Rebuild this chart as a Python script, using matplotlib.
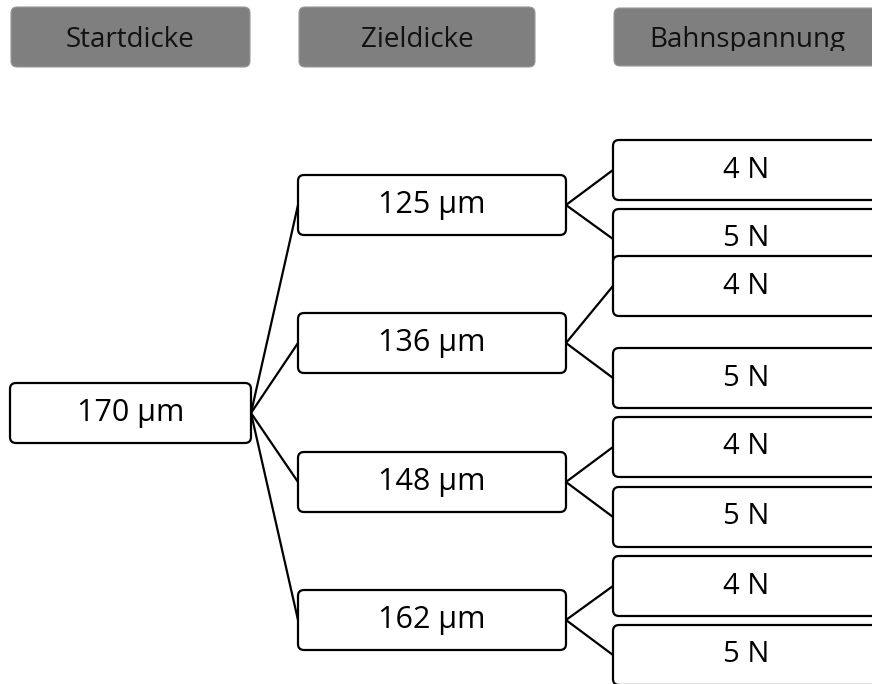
import matplotlib.pyplot as plt
from matplotlib.patches import FancyBboxPatch, Rectangle

plt.rcParams['font.family'] = ['Open Sans', 'DejaVu Sans']

# Inhalt des Baumdiagramms
headers = ["Startdicke", "Zieldicke", "Bahnspannung"]
start_label = "170 µm"
target_labels = ["125 µm", "136 µm", "148 µm", "162 µm"]
tension_labels = ["4 N", "5 N"]

# Layout (Pixelkoordinaten, y nach unten)
header_boxes = [(11, 7, 239, 60), (299, 7, 236, 60), (614, 8, 270, 58)]
header_text_x = [130, 417, 747]
root_box = (10, 383, 241, 60)
mid_x, mid_w, mid_h = 298, 268, 60
mid_cy = [205, 343, 482, 620]
right_x, right_w, right_h = 613, 266, 60
right_cy = [[170, 239], [286, 378], [447, 517], [586, 655]]

fig = plt.figure(figsize=(8.72, 6.84), dpi=100)
ax = fig.add_axes([0, 0, 1, 1])
ax.set_xlim(0, 872)
ax.set_ylim(684, 0)
ax.axis('off')


def box(x, y, w, h, label, z, fc='white', ec='black', fs=22):
    p = FancyBboxPatch((x, y), w, h, boxstyle="round,pad=0,rounding_size=6",
                       fc=fc, ec=ec, lw=1.6, zorder=z)
    ax.add_patch(p)
    ax.text(x + w / 2, y + h / 2, label, ha='center', va='center', fontsize=fs,
            color='black', zorder=z + 0.5)


# Kopfzeilen
for i, (hx, hy, hw, hh) in enumerate(header_boxes):
    p = FancyBboxPatch((hx, hy), hw, hh, boxstyle="round,pad=0,rounding_size=6",
                       fc='#7f7f7f', ec='#9a9a9a', lw=0.8, zorder=1)
    ax.add_patch(p)
    t = ax.text(header_text_x[i], hy + hh / 2 + 3, headers[i], ha='center',
                va='center', fontsize=20, color='#111111', zorder=2)
    if i == 2:
        # Text ist im Original unten abgeschnitten
        clip = Rectangle((hx, hy), hw, 43, transform=ax.transData)
        t.set_clip_path(clip)
        t.set_clip_on(True)

# Verbindungslinien
rx = root_box[0] + root_box[2]
ry = root_box[1] + root_box[3] / 2
for i, cy in enumerate(mid_cy):
    ax.plot([rx, mid_x], [ry, cy], color='black', lw=1.6, zorder=0.5)
    for ty in right_cy[i]:
        ax.plot([mid_x + mid_w, right_x], [cy, ty], color='black', lw=1.6, zorder=0.5)

# Boxen
box(*root_box, start_label, 3)
for i, cy in enumerate(mid_cy):
    box(mid_x, cy - mid_h / 2, mid_w, mid_h, target_labels[i], 3)

z = 3
for i, pair in enumerate(right_cy):
    for j, ty in enumerate(pair):
        box(right_x, ty - right_h / 2, right_w, right_h, tension_labels[j], z, fs=21)
        z += 1

fig.savefig("out.png", dpi=100)
